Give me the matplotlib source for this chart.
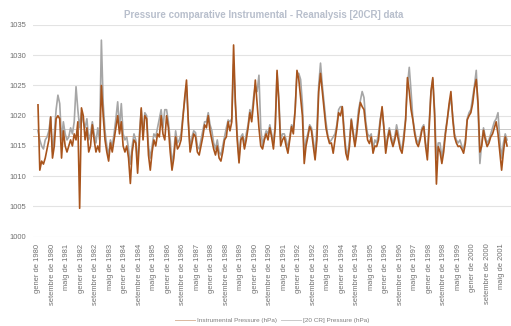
import matplotlib
matplotlib.use("Agg")
import matplotlib.pyplot as plt
import numpy as np

# ---------------- data (monthly, from gener de 1980) ----------------
start_year = 1980
month_names = ["gener", "febrer", "març", "abril", "maig", "juny", "juliol",
               "agost", "setembre", "octubre", "novembre", "desembre"]

instrumental = [
    1021.8, 1011.0, 1012.5, 1012.0, 1013.0, 1014.5, 1016.0, 1019.8, 1013.0, 1015.0, 1019.5, 1020.0,  # 1980
    1019.5, 1013.0, 1017.5, 1015.0, 1014.0, 1015.0, 1016.0, 1015.0, 1017.0, 1016.0, 1019.0, 1004.7,  # 1981
    1021.3, 1020.0, 1016.0, 1018.0, 1014.0, 1015.0, 1018.5, 1016.0, 1014.0, 1015.0, 1014.0, 1025.0,  # 1982
    1020.0, 1016.0, 1014.0, 1012.5, 1015.5, 1014.0, 1016.0, 1018.0, 1020.0, 1017.0, 1019.0, 1015.0,  # 1983
    1014.0, 1015.0, 1013.0, 1008.8, 1014.0, 1016.0, 1015.5, 1010.5, 1016.0, 1021.3, 1016.0, 1020.0,  # 1984
    1019.5, 1013.5, 1011.0, 1014.0, 1016.0, 1015.0, 1017.0, 1016.5, 1020.0, 1017.0, 1016.0, 1020.0,  # 1985
    1018.0, 1014.0, 1011.0, 1013.0, 1016.5, 1014.5, 1015.0, 1016.0, 1019.5, 1023.0, 1025.9, 1019.0,  # 1986
    1014.0, 1015.5, 1017.0, 1016.5, 1014.0, 1013.5, 1015.0, 1016.5, 1018.5, 1018.0, 1020.0, 1017.5,  # 1987
    1016.0, 1014.5, 1013.5, 1015.0, 1013.0, 1012.5, 1014.0, 1016.0, 1016.5, 1019.0, 1017.5, 1019.0,  # 1988
    1031.7, 1022.0, 1016.0, 1012.2, 1016.0, 1016.5, 1014.5, 1016.0, 1018.0, 1020.5, 1019.0, 1022.0,  # 1989
    1025.9, 1022.0, 1018.0, 1015.0, 1014.5, 1016.0, 1017.0, 1016.0, 1018.0, 1016.5, 1014.5, 1018.0,  # 1990
    1027.5, 1022.0, 1015.0, 1016.0, 1016.5, 1015.0, 1013.8, 1016.0, 1018.2, 1017.0, 1021.0, 1027.5,  # 1991
    1026.0, 1023.0, 1020.0, 1012.1, 1015.0, 1016.5, 1018.2, 1017.5, 1015.0, 1012.7, 1016.0, 1024.0,  # 1992
    1027.0, 1024.0, 1021.0, 1018.0, 1016.5, 1015.4, 1015.5, 1013.8, 1016.0, 1018.0, 1020.5, 1020.0,  # 1993
    1021.5, 1017.0, 1013.8, 1012.7, 1015.0, 1019.3, 1017.0, 1014.9, 1017.0, 1020.0, 1022.2, 1021.5,  # 1994
    1021.0, 1018.2, 1016.0, 1015.4, 1016.5, 1013.8, 1015.0, 1014.9, 1016.0, 1019.0, 1021.5, 1018.0,  # 1995
    1013.8, 1016.0, 1017.6, 1016.0, 1014.9, 1016.0, 1017.6, 1016.0, 1014.5, 1013.8, 1016.0, 1019.3,  # 1996
    1026.3, 1024.0, 1021.0, 1019.3, 1017.0, 1015.5, 1014.9, 1016.0, 1017.6, 1018.2, 1015.0, 1012.7,  # 1997
    1018.0, 1024.0, 1026.3, 1020.0, 1008.7, 1014.9, 1014.0, 1012.1, 1014.0, 1017.0, 1019.3, 1022.0,  # 1998
    1024.0, 1019.5, 1016.5, 1015.5, 1014.9, 1015.0, 1014.5, 1013.8, 1015.5, 1019.3, 1020.0, 1020.5,  # 1999
    1022.0, 1024.5, 1026.0, 1022.0, 1014.0, 1015.0, 1017.6, 1016.0, 1014.9, 1015.5, 1016.5, 1017.0,  # 2000
    1018.0, 1019.0, 1017.0, 1014.0, 1011.0, 1014.0, 1016.5, 1015.0,                                  # 2001
]

reanalysis_20cr = [
    1017.5, 1016.0, 1015.0, 1014.5, 1016.0, 1016.5, 1017.5, 1019.8, 1014.0, 1017.0, 1021.0, 1023.4,  # 1980
    1022.0, 1016.0, 1019.0, 1017.0, 1016.0, 1016.5, 1018.0, 1017.0, 1019.0, 1024.8, 1021.0, 1018.0,  # 1981
    1020.5, 1019.0, 1018.0, 1019.5, 1016.0, 1017.0, 1019.0, 1017.0, 1015.5, 1018.0, 1016.0, 1032.5,  # 1982
    1022.0, 1017.5, 1015.0, 1013.5, 1016.0, 1015.0, 1017.0, 1019.5, 1022.3, 1018.0, 1022.0, 1017.0,  # 1983
    1016.0, 1016.5, 1014.5, 1012.0, 1015.0, 1017.0, 1016.0, 1012.0, 1017.0, 1021.0, 1017.0, 1020.5,  # 1984
    1020.0, 1015.0, 1013.0, 1015.0, 1017.0, 1016.5, 1018.0, 1019.5, 1021.0, 1018.0, 1021.0, 1021.0,  # 1985
    1019.0, 1016.0, 1012.0, 1014.0, 1017.5, 1015.5, 1016.0, 1017.0, 1020.0, 1022.5, 1025.0, 1019.0,  # 1986
    1014.5, 1016.5, 1017.5, 1017.2, 1015.0, 1014.5, 1016.0, 1017.5, 1019.0, 1019.0, 1020.5, 1018.5,  # 1987
    1017.5, 1015.5, 1014.5, 1016.0, 1014.0, 1013.5, 1015.0, 1016.5, 1018.0, 1019.3, 1019.0, 1019.5,  # 1988
    1028.5, 1022.0, 1017.0, 1013.0, 1016.5, 1017.0, 1015.0, 1017.0, 1018.5, 1021.0, 1020.0, 1023.0,  # 1989
    1025.0, 1024.0, 1026.7, 1018.0, 1015.0, 1016.5, 1017.5, 1017.0, 1018.5, 1017.0, 1015.5, 1018.5,  # 1990
    1027.0, 1023.0, 1016.0, 1017.0, 1017.0, 1016.0, 1014.5, 1016.5, 1018.5, 1018.0, 1021.0, 1027.0,  # 1991
    1027.0, 1026.0, 1022.0, 1013.5, 1016.0, 1017.0, 1018.5, 1018.0, 1016.0, 1013.5, 1018.0, 1025.0,  # 1992
    1028.7, 1025.0, 1022.0, 1019.0, 1016.8, 1015.6, 1016.0, 1016.5, 1017.0, 1018.5, 1021.0, 1021.5,  # 1993
    1021.5, 1018.0, 1014.5, 1013.5, 1016.0, 1019.5, 1017.5, 1015.5, 1018.0, 1021.0, 1022.5, 1024.0,  # 1994
    1023.0, 1019.0, 1017.0, 1016.5, 1017.0, 1014.5, 1016.0, 1015.5, 1017.0, 1019.5, 1021.0, 1018.0,  # 1995
    1014.5, 1016.5, 1018.0, 1016.5, 1015.5, 1016.5, 1018.5, 1017.0, 1015.0, 1014.5, 1017.0, 1019.5,  # 1996
    1025.0, 1028.0, 1024.0, 1019.5, 1017.5, 1016.0, 1015.5, 1016.5, 1018.0, 1018.5, 1015.5, 1014.0,  # 1997
    1019.0, 1024.0, 1026.0, 1021.0, 1013.0, 1015.5, 1015.5, 1013.0, 1015.0, 1017.5, 1019.5, 1021.5,  # 1998
    1023.0, 1020.0, 1017.0, 1016.0, 1015.5, 1016.0, 1015.0, 1014.5, 1016.0, 1019.5, 1020.5, 1021.0,  # 1999
    1023.0, 1025.0, 1027.5, 1021.0, 1012.1, 1015.5, 1018.0, 1016.5, 1015.5, 1016.0, 1017.0, 1018.0,  # 2000
    1019.0, 1019.5, 1020.5, 1016.0, 1013.0, 1015.5, 1017.0, 1016.0,                                  # 2001
]

instrumental_mean = 1016.7
reanalysis_mean = 1017.8

series_labels = ["Instrumental Pressure (hPa)", "[20 CR] Pressure (hPa)"]
title = "Pressure comparative Instrumental - Reanalysis [20CR] data"
yticks = [1000, 1005, 1010, 1015, 1020, 1025, 1030, 1035]
label_step = 8

# ---------------- plot ----------------
plt.rcParams['font.family'] = ['Liberation Sans', 'DejaVu Sans']

W, H = 511, 326
fig = plt.figure(figsize=(W / 100, H / 100), dpi=100)
fig.patch.set_facecolor("white")
ax = fig.add_axes([33 / W, (H - 236.7) / H, (W - 33) / W, (236.7 - 25) / H])

n = len(instrumental)
x = np.arange(n)

brown = "#a8541c"
grey = "#a6a6a6"

ax.axhline(reanalysis_mean, color="#c9c9c9", lw=0.7, zorder=1)
ax.axhline(instrumental_mean, color="#d9b8a0", lw=0.7, zorder=1)
ax.plot(x, reanalysis_20cr, color=grey, lw=1.2, zorder=3, label=series_labels[1])
ax.plot(x, instrumental, color=brown, lw=1.2, zorder=4, label=series_labels[0])

ax.set_ylim(1000, 1035)
ax.set_yticks(yticks)
ax.set_yticklabels([str(v) for v in yticks])
ax.yaxis.grid(True, color="#e3e3e3", lw=0.8)
ax.set_axisbelow(True)
for s in ax.spines.values():
    s.set_visible(False)

ax.set_xlim(-2.76, (W - 38) / 1.811)
tick_pos = list(range(0, n, label_step))
tick_lab = [f"{month_names[p % 12]} de {start_year + p // 12}" for p in tick_pos]
ax.set_xticks(tick_pos)
ax.set_xticklabels(tick_lab, rotation=90, fontsize=5.4, color="#707070")
ax.tick_params(axis="x", length=0, pad=5)
ax.tick_params(axis="y", length=0, pad=5, labelsize=5.5, labelcolor="#707070")

fig.text(0.517, (H - 15) / H, title, ha="center", va="center",
         fontsize=7, fontweight="bold", color="#b8bfcc")

leg = fig.legend(handles=[ax.lines[1], ax.lines[0]], labels=series_labels,
                 loc="center", bbox_to_anchor=(272 / W, (H - 320) / H),
                 ncol=2, frameon=False, fontsize=4.6, handlelength=3.2,
                 handletextpad=0.3, columnspacing=0.6, labelcolor="#7f7f7f")

fig.savefig("out.png", dpi=100, facecolor="white")
